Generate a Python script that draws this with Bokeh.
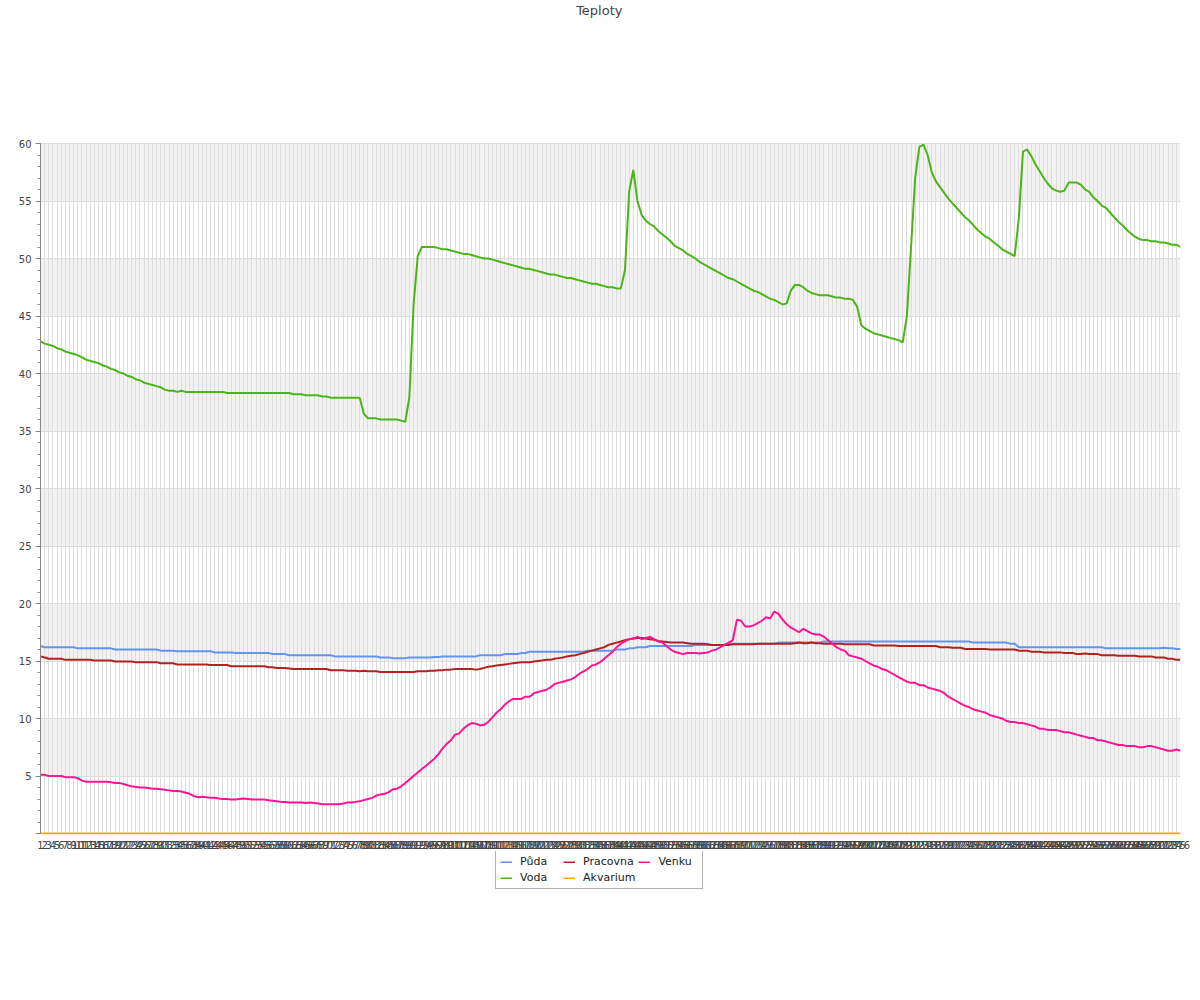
from bokeh.plotting import figure
from bokeh.layouts import column
from bokeh.models import (Range1d, FixedTicker, SingleIntervalTicker, Legend,
                          LegendItem, Label, ColumnDataSource, BoxAnnotation)
from bokeh.embed import file_html
from bokeh.resources import INLINE

N = 276
x_idx = list(range(1, N + 1))
x_labels = [str(i) for i in x_idx]

series_names = ["Půda", "Pracovna", "Venku", "Voda", "Akvarium"]
series_colors = ["#6495ED", "#B22222", "#FF1493", "#4BB516", "#FFA500"]

puda = [
    16.3, 16.2, 16.2, 16.2, 16.2, 16.2, 16.2, 16.2, 16.2, 16.1,
    16.1, 16.1, 16.1, 16.1, 16.1, 16.1, 16.1, 16.1, 16.0, 16.0,
    16.0, 16.0, 16.0, 16.0, 16.0, 16.0, 16.0, 16.0, 16.0, 15.9,
    15.9, 15.9, 15.9, 15.85, 15.85, 15.85, 15.85, 15.85, 15.85, 15.85,
    15.85, 15.85, 15.75, 15.75, 15.75, 15.75, 15.75, 15.7, 15.7, 15.7,
    15.7, 15.7, 15.7, 15.7, 15.7, 15.7, 15.6, 15.6, 15.6, 15.6,
    15.5, 15.5, 15.5, 15.5, 15.5, 15.5, 15.5, 15.5, 15.5, 15.5,
    15.5, 15.4, 15.4, 15.4, 15.4, 15.4, 15.4, 15.4, 15.4, 15.4,
    15.4, 15.4, 15.3, 15.3, 15.3, 15.25, 15.25, 15.25, 15.25, 15.3,
    15.3, 15.3, 15.3, 15.3, 15.3, 15.35, 15.35, 15.4, 15.4, 15.4,
    15.4, 15.4, 15.4, 15.4, 15.4, 15.4, 15.5, 15.5, 15.5, 15.5,
    15.5, 15.5, 15.6, 15.6, 15.6, 15.6, 15.7, 15.7, 15.8, 15.8,
    15.8, 15.8, 15.8, 15.8, 15.8, 15.8, 15.8, 15.8, 15.8, 15.8,
    15.8, 15.8, 15.9, 15.9, 15.9, 15.9, 15.9, 15.9, 15.9, 16.0,
    16.0, 16.0, 16.1, 16.1, 16.2, 16.2, 16.2, 16.3, 16.3, 16.3,
    16.3, 16.3, 16.3, 16.3, 16.3, 16.3, 16.3, 16.3, 16.4, 16.4,
    16.4, 16.4, 16.4, 16.4, 16.4, 16.4, 16.5, 16.5, 16.5, 16.5,
    16.5, 16.5, 16.5, 16.5, 16.5, 16.5, 16.5, 16.5, 16.6, 16.6,
    16.6, 16.6, 16.6, 16.6, 16.6, 16.6, 16.6, 16.6, 16.6, 16.7,
    16.7, 16.7, 16.7, 16.7, 16.7, 16.7, 16.7, 16.7, 16.7, 16.7,
    16.7, 16.7, 16.7, 16.7, 16.7, 16.7, 16.7, 16.7, 16.7, 16.7,
    16.7, 16.7, 16.7, 16.7, 16.7, 16.7, 16.7, 16.7, 16.7, 16.7,
    16.7, 16.7, 16.7, 16.7, 16.7, 16.6, 16.6, 16.6, 16.6, 16.6,
    16.6, 16.6, 16.6, 16.6, 16.5, 16.5, 16.2, 16.2, 16.2, 16.2,
    16.2, 16.2, 16.2, 16.2, 16.2, 16.2, 16.2, 16.2, 16.2, 16.2,
    16.2, 16.2, 16.2, 16.2, 16.2, 16.2, 16.2, 16.1, 16.1, 16.1,
    16.1, 16.1, 16.1, 16.1, 16.1, 16.1, 16.1, 16.1, 16.1, 16.1,
    16.1, 16.15, 16.1, 16.1, 16.05, 16.05,
]

pracovna = [
    15.4, 15.3, 15.2, 15.2, 15.2, 15.2, 15.1, 15.1, 15.1, 15.1,
    15.1, 15.1, 15.1, 15.05, 15.05, 15.05, 15.05, 15.05, 14.95, 14.95,
    14.95, 14.95, 14.95, 14.9, 14.9, 14.9, 14.9, 14.9, 14.9, 14.8,
    14.8, 14.8, 14.8, 14.7, 14.7, 14.7, 14.7, 14.7, 14.7, 14.7,
    14.7, 14.65, 14.65, 14.65, 14.65, 14.65, 14.55, 14.55, 14.55, 14.55,
    14.55, 14.55, 14.55, 14.55, 14.55, 14.45, 14.45, 14.4, 14.4, 14.4,
    14.35, 14.3, 14.3, 14.3, 14.3, 14.3, 14.3, 14.3, 14.3, 14.3,
    14.2, 14.2, 14.2, 14.2, 14.15, 14.15, 14.15, 14.1, 14.15, 14.1,
    14.1, 14.1, 14.05, 14.05, 14.05, 14.05, 14.05, 14.05, 14.05, 14.05,
    14.05, 14.1, 14.1, 14.1, 14.15, 14.15, 14.2, 14.2, 14.25, 14.25,
    14.3, 14.3, 14.3, 14.3, 14.3, 14.25, 14.3, 14.4, 14.5, 14.55,
    14.6, 14.65, 14.7, 14.75, 14.8, 14.85, 14.9, 14.9, 14.9, 14.95,
    15.0, 15.05, 15.1, 15.1, 15.2, 15.25, 15.3, 15.4, 15.45, 15.5,
    15.6, 15.7, 15.8, 15.9, 16.0, 16.1, 16.2, 16.4, 16.5, 16.6,
    16.7, 16.8, 16.9, 16.95, 17.0, 17.0, 16.95, 16.9, 16.85, 16.75,
    16.7, 16.65, 16.6, 16.6, 16.6, 16.6, 16.55, 16.5, 16.5, 16.5,
    16.5, 16.45, 16.4, 16.4, 16.4, 16.4, 16.4, 16.45, 16.45, 16.45,
    16.45, 16.45, 16.45, 16.5, 16.5, 16.5, 16.5, 16.5, 16.5, 16.5,
    16.5, 16.5, 16.55, 16.6, 16.55, 16.55, 16.6, 16.55, 16.55, 16.5,
    16.5, 16.5, 16.5, 16.5, 16.45, 16.45, 16.45, 16.45, 16.45, 16.45,
    16.45, 16.35, 16.35, 16.35, 16.35, 16.35, 16.35, 16.3, 16.3, 16.3,
    16.3, 16.3, 16.3, 16.3, 16.3, 16.3, 16.3, 16.2, 16.2, 16.2,
    16.15, 16.15, 16.15, 16.05, 16.05, 16.05, 16.05, 16.05, 16.05, 16.0,
    16.0, 16.0, 16.0, 16.0, 16.0, 16.0, 15.9, 15.9, 15.9, 15.8,
    15.8, 15.8, 15.75, 15.75, 15.75, 15.75, 15.75, 15.7, 15.7, 15.7,
    15.6, 15.6, 15.65, 15.6, 15.6, 15.6, 15.5, 15.5, 15.5, 15.5,
    15.45, 15.45, 15.45, 15.45, 15.45, 15.4, 15.4, 15.4, 15.4, 15.3,
    15.3, 15.3, 15.2, 15.2, 15.1, 15.1,
]

venku = [
    5.1, 5.1, 5.0, 5.0, 5.0, 5.0, 4.9, 4.9, 4.9, 4.8,
    4.6, 4.5, 4.5, 4.5, 4.5, 4.5, 4.5, 4.45, 4.4, 4.4,
    4.3, 4.2, 4.1, 4.05, 4.0, 4.0, 3.95, 3.9, 3.9, 3.85,
    3.8, 3.75, 3.7, 3.7, 3.65, 3.55, 3.45, 3.25, 3.15, 3.2,
    3.15, 3.1, 3.1, 3.05, 3.0, 3.0, 2.95, 2.95, 3.0, 3.05,
    3.0, 2.95, 2.95, 2.95, 2.95, 2.9, 2.85, 2.8, 2.75, 2.75,
    2.7, 2.7, 2.7, 2.7, 2.65, 2.7, 2.65, 2.6, 2.55, 2.55,
    2.55, 2.55, 2.55, 2.6, 2.7, 2.7, 2.75, 2.8, 2.9, 3.0,
    3.1, 3.3, 3.4, 3.45, 3.6, 3.85, 3.9, 4.1, 4.4, 4.7,
    5.0, 5.3, 5.6, 5.9, 6.2, 6.5, 6.9, 7.4, 7.8, 8.1,
    8.6, 8.7, 9.1, 9.4, 9.6, 9.55, 9.4, 9.45, 9.7, 10.1,
    10.5, 10.8, 11.2, 11.5, 11.7, 11.7, 11.7, 11.9, 11.9, 12.2,
    12.3, 12.4, 12.5, 12.7, 13.0, 13.1, 13.2, 13.3, 13.4, 13.6,
    13.9, 14.1, 14.3, 14.6, 14.7, 14.9, 15.2, 15.5, 15.8, 16.2,
    16.5, 16.7, 16.9, 16.95, 17.1, 16.9, 17.0, 17.1, 16.9, 16.7,
    16.6, 16.3, 16.0, 15.8, 15.7, 15.6, 15.7, 15.7, 15.7, 15.65,
    15.7, 15.75, 15.9, 16.0, 16.2, 16.4, 16.6, 16.8, 18.6, 18.5,
    18.0, 18.0, 18.1, 18.3, 18.5, 18.8, 18.7, 19.3, 19.1, 18.6,
    18.2, 17.9, 17.7, 17.5, 17.8, 17.6, 17.4, 17.3, 17.3, 17.1,
    16.8, 16.5, 16.2, 16.0, 15.9, 15.5, 15.4, 15.3, 15.2, 15.0,
    14.8, 14.6, 14.5, 14.3, 14.2, 14.0, 13.8, 13.6, 13.4, 13.2,
    13.1, 13.1, 12.9, 12.9, 12.7, 12.6, 12.5, 12.4, 12.2, 11.9,
    11.7, 11.5, 11.3, 11.1, 11.0, 10.8, 10.7, 10.6, 10.5, 10.3,
    10.2, 10.1, 10.0, 9.8, 9.7, 9.7, 9.6, 9.6, 9.5, 9.4,
    9.3, 9.1, 9.1, 9.0, 9.0, 9.0, 8.9, 8.8, 8.8, 8.7,
    8.6, 8.5, 8.4, 8.3, 8.3, 8.1, 8.1, 8.0, 7.9, 7.8,
    7.7, 7.7, 7.6, 7.6, 7.6, 7.5, 7.5, 7.6, 7.6, 7.5,
    7.4, 7.3, 7.2, 7.2, 7.3, 7.2,
]

voda = [
    42.8, 42.6, 42.5, 42.4, 42.2, 42.1, 41.9, 41.8, 41.7, 41.6,
    41.4, 41.2, 41.1, 41.0, 40.9, 40.7, 40.6, 40.4, 40.3, 40.1,
    40.0, 39.8, 39.7, 39.5, 39.4, 39.2, 39.1, 39.0, 38.9, 38.8,
    38.6, 38.5, 38.5, 38.4, 38.5, 38.4, 38.4, 38.4, 38.4, 38.4,
    38.4, 38.4, 38.4, 38.4, 38.4, 38.3, 38.3, 38.3, 38.3, 38.3,
    38.3, 38.3, 38.3, 38.3, 38.3, 38.3, 38.3, 38.3, 38.3, 38.3,
    38.3, 38.2, 38.2, 38.2, 38.1, 38.1, 38.1, 38.1, 38.0, 38.0,
    37.9, 37.9, 37.9, 37.9, 37.9, 37.9, 37.9, 37.9, 36.5, 36.1,
    36.1, 36.1, 36.0, 36.0, 36.0, 36.0, 36.0, 35.9, 35.8, 38.0,
    46.0, 50.2, 51.0, 51.0, 51.0, 51.0, 50.9, 50.8, 50.8, 50.7,
    50.6, 50.5, 50.4, 50.4, 50.3, 50.2, 50.1, 50.0, 50.0, 49.9,
    49.8, 49.7, 49.6, 49.5, 49.4, 49.3, 49.2, 49.1, 49.1, 49.0,
    48.9, 48.8, 48.7, 48.6, 48.6, 48.5, 48.4, 48.3, 48.3, 48.2,
    48.1, 48.0, 47.9, 47.8, 47.8, 47.7, 47.6, 47.5, 47.5, 47.4,
    47.4, 49.0, 55.8, 57.7, 55.0, 53.8, 53.3, 53.0, 52.8, 52.4,
    52.1, 51.8, 51.5, 51.1, 50.9, 50.7, 50.4, 50.2, 50.0, 49.7,
    49.5, 49.3, 49.1, 48.9, 48.7, 48.5, 48.3, 48.2, 48.0, 47.8,
    47.6, 47.4, 47.2, 47.1, 46.9, 46.7, 46.5, 46.4, 46.2, 46.0,
    46.1, 47.2, 47.7, 47.7, 47.5, 47.2, 47.0, 46.9, 46.8, 46.8,
    46.8, 46.7, 46.6, 46.6, 46.5, 46.5, 46.4, 45.8, 44.2, 43.9,
    43.7, 43.5, 43.4, 43.3, 43.2, 43.1, 43.0, 42.9, 42.7, 45.0,
    51.0, 57.0, 59.7, 59.9, 59.0, 57.5, 56.7, 56.2, 55.7, 55.2,
    54.8, 54.4, 54.0, 53.6, 53.3, 52.9, 52.5, 52.2, 51.9, 51.7,
    51.4, 51.1, 50.8, 50.6, 50.4, 50.2, 53.5, 59.3, 59.5, 58.9,
    58.2, 57.6, 57.0, 56.5, 56.1, 55.9, 55.8, 55.9, 56.6, 56.6,
    56.6, 56.4, 56.0, 55.8, 55.3, 55.0, 54.6, 54.4, 54.0, 53.6,
    53.2, 52.9, 52.5, 52.2, 51.9, 51.7, 51.6, 51.6, 51.5, 51.5,
    51.4, 51.4, 51.3, 51.2, 51.2, 51.0,
]

akvarium = [0.0] * N

y_ticks_step = 5
y_min, y_max = 0, 60

FONT = "DejaVu Sans"
PX_PER_UNIT = 11.5
ZERO_PX = 833            # page y of value 0
FRAME_H = ZERO_PX + 1    # frame from page top to 1px below zero line
y_start = -1 / PX_PER_UNIT
y_end = ZERO_PX / PX_PER_UNIT

p = figure(frame_width=1140, frame_height=FRAME_H,
           x_range=Range1d(1, N), y_range=Range1d(y_start, y_end),
           output_backend="svg", toolbar_location=None,
           min_border_left=40, min_border_right=12,
           min_border_top=0, min_border_bottom=0)
p.outline_line_color = None
p.background_fill_color = "white"
p.border_fill_color = "white"

# alternating bands between y ticks (5-10, 15-20, ..., 55-60)
for lo in range(y_min + y_ticks_step, y_max, 2 * y_ticks_step):
    p.add_layout(BoxAnnotation(bottom=lo, top=lo + y_ticks_step,
                               fill_color="#F2F2F2", fill_alpha=1.0,
                               line_color=None, level="image"))

# x axis
xt = FixedTicker(ticks=x_idx)
p.xaxis.ticker = xt
p.xaxis.major_label_overrides = {i: lab for i, lab in zip(x_idx, x_labels)}
p.xaxis.axis_line_color = None
p.xaxis.major_tick_line_color = None
p.xaxis.minor_tick_line_color = None
p.xaxis.major_tick_out = 0
p.xaxis.major_tick_in = 0
p.xaxis.major_label_standoff = 6
p.xaxis.major_label_text_font = FONT
p.xaxis.major_label_text_font_size = "10px"
p.xaxis.major_label_text_color = "#444444"

# y axis
yt = SingleIntervalTicker(interval=y_ticks_step, num_minor_ticks=5)
p.yaxis.ticker = yt
p.yaxis.bounds = (y_min, y_max)
p.yaxis.major_label_overrides = {0: ""}
p.yaxis.axis_line_color = "#888888"
p.yaxis.major_tick_line_color = "#888888"
p.yaxis.minor_tick_line_color = "#888888"
p.yaxis.major_tick_out = 5
p.yaxis.major_tick_in = 0
p.yaxis.minor_tick_out = 3
p.yaxis.minor_tick_in = 0
p.yaxis.major_label_standoff = 4
p.yaxis.major_label_text_font = FONT
p.yaxis.major_label_text_font_size = "10px"
p.yaxis.major_label_text_color = "#444444"

# grids
p.xgrid.ticker = xt
p.xgrid.grid_line_color = "#DDDDDD"
p.xgrid.cross_bounds = (y_min, y_max)
p.ygrid.ticker = yt
p.ygrid.bounds = (y_min, y_max)
p.ygrid.grid_line_color = "#DDDDDD"
p.ygrid.band_fill_color = None

src = ColumnDataSource(dict(x=x_idx, puda=puda, pracovna=pracovna,
                            venku=venku, voda=voda, akvarium=akvarium))
cols = ["puda", "pracovna", "venku", "voda", "akvarium"]
for col, color in zip(cols, series_colors):
    p.line("x", col, source=src, line_color=color, line_width=2)

title = Label(x=135.8, y=(ZERO_PX - 9.5) / PX_PER_UNIT,
              text="Teploty", text_align="center", text_baseline="alphabetic",
              text_font=FONT, text_font_size="13px", text_color="#444444")
p.add_layout(title)

# legend strip below the chart (same series, view window holds no data)
LEG_H = 42
p2 = figure(frame_width=1192, frame_height=LEG_H,
            x_range=p.x_range, y_range=Range1d(-200, -100),
            x_axis_type=None, y_axis_type=None,
            output_backend="svg", toolbar_location=None,
            min_border_left=0, min_border_right=0,
            min_border_top=0, min_border_bottom=0)
p2.outline_line_color = None
p2.grid.visible = False
leg_renderers = []
for col, color in zip(cols, series_colors):
    leg_renderers.append(p2.line("x", col, source=src, line_color=color, line_width=2))

items = [LegendItem(label=name, renderers=[r]) for name, r in zip(series_names, leg_renderers)]
legend = Legend(items=items, orientation="horizontal", ncols=3,
                location=(495, 4),
                label_text_font=FONT, label_text_font_size="11px",
                label_text_color="#222222",
                glyph_width=12, glyph_height=2, label_height=2,
                label_width=40,
                label_standoff=8, spacing=3, padding=4, margin=0,
                border_line_color="#666666", border_line_width=1,
                background_fill_color="white", background_fill_alpha=1.0)
p2.add_layout(legend)

layout = column(p, p2, spacing=0)
open("out.html", "w").write(file_html(layout, INLINE))
